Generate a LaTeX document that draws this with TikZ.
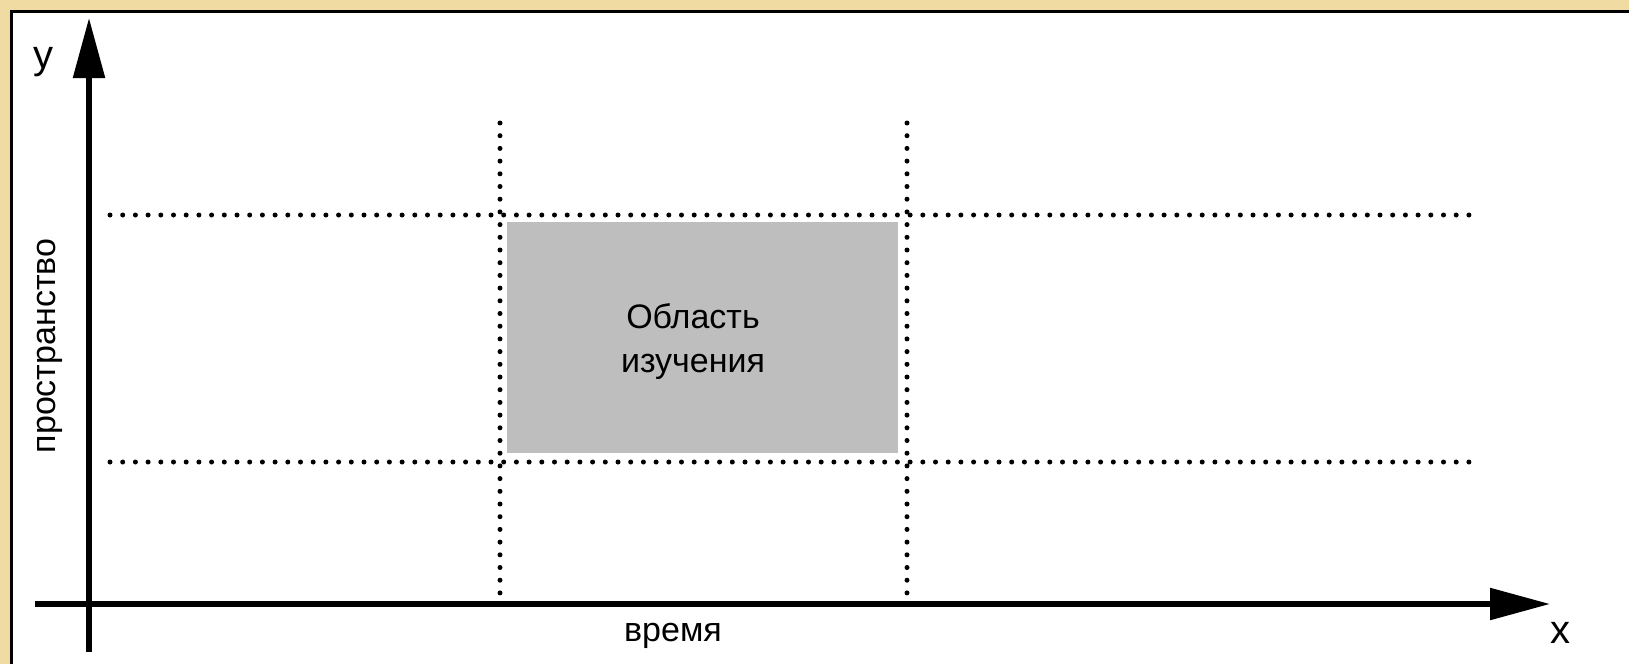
\documentclass[tikz,border=0pt]{standalone}
\usepackage{fontspec}
\setmainfont{Liberation Sans}
\usepackage{tikz}
\usetikzlibrary{arrows.meta,positioning}
\definecolor{goldbg}{RGB}{240,220,162}
\definecolor{areabg}{RGB}{190,190,190}

\begin{document}
\begin{tikzpicture}[x=1pt, y=-1pt,
  axis/.style={line width=5.5pt, -{Triangle[length=60pt, width=31pt]}},
  grid/.style={line width=5pt, line cap=round, dash pattern=on 0pt off 12.7pt},
  lab/.style={font=\fontsize{34}{40}\selectfont, inner sep=0pt},
  axlab/.style={font=\fontsize{40}{44}\selectfont, inner sep=0pt}]
  \useasboundingbox (0,0) rectangle (1629,664);
  % page background and frame
  \fill[goldbg] (0,0) rectangle (1629,664);
  \fill[white] (11,11) rectangle (1629,664);
  \draw[line width=3pt] (11,664) -- (11,11) -- (1629,11);

  % study area
  \node[fill=areabg, minimum width=391pt, minimum height=231pt, inner sep=0pt] (area) at (702.5,337.5) {};
  \node[lab, align=center] (areatxt) at (693,342) {Область\\[4pt]изучения};

  % dotted grid
  \foreach \yy in {215,462} \draw[grid] (110,\yy) -- (1476,\yy);
  \foreach \xx in {500,907} \draw[grid] (\xx,123) -- (\xx,597);

  % axes
  \coordinate (ybot) at (89,652);
  \coordinate (ytip) at (89,18);
  \coordinate (xleft) at (35,604);
  \coordinate (xtip) at (1550,604);
  \draw[axis] (ybot) -- (ytip);
  \draw[axis] (xleft) -- (xtip);

  \node[axlab] (ylab) at (43,62) {y};
  \node[axlab] (xlab) at (1560,633) {x};
  \node[lab, rotate=90] (space) at (50,346) {пространство};
  \node[lab] (time) at (673,636) {время};
\end{tikzpicture}
\end{document}
